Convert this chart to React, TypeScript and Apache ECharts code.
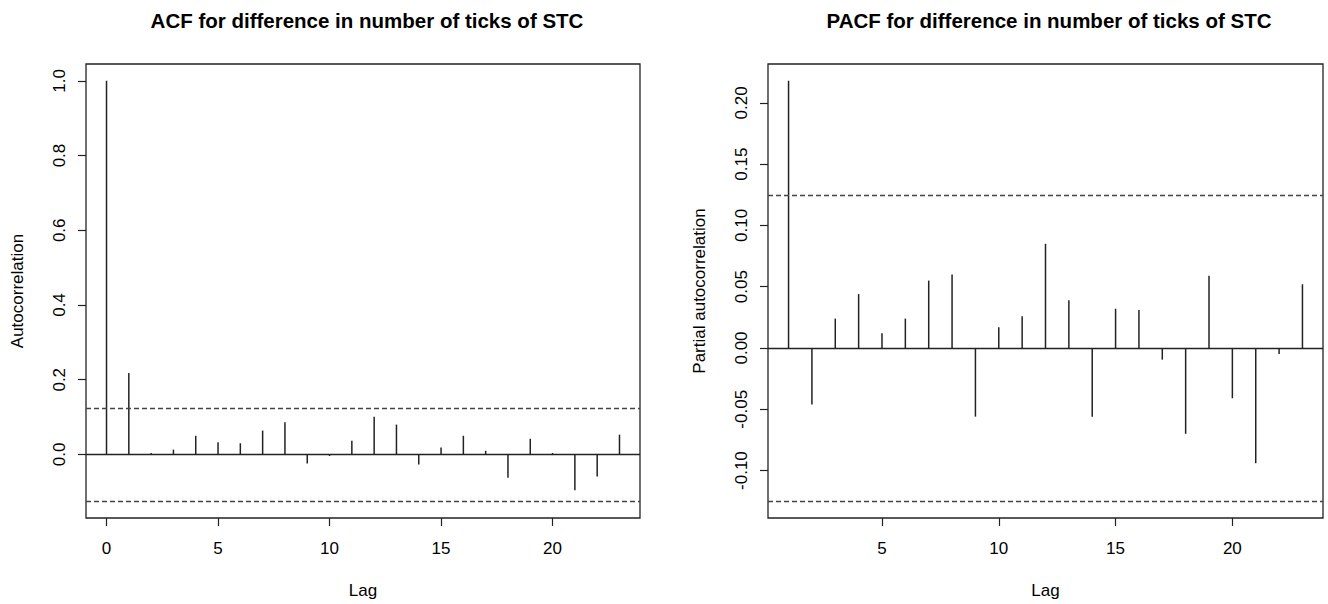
import React, { useEffect, useRef } from "react";
import * as echarts from "echarts";

const acfLags = [0, 1, 2, 3, 4, 5, 6, 7, 8, 9, 10, 11, 12, 13, 14, 15, 16, 17, 18, 19, 20, 21, 22, 23];
const acfValues = [1.0, 0.218, 0.004, 0.013, 0.05, 0.033, 0.03, 0.064, 0.086, -0.024, -0.004, 0.037, 0.101, 0.08, -0.027, 0.019, 0.05, 0.01, -0.062, 0.042, 0.004, -0.096, -0.059, 0.053];
const pacfLags = [1, 2, 3, 4, 5, 6, 7, 8, 9, 10, 11, 12, 13, 14, 15, 16, 17, 18, 19, 20, 21, 22, 23];
const pacfValues = [0.218, -0.046, 0.024, 0.044, 0.012, 0.024, 0.055, 0.06, -0.056, 0.017, 0.026, 0.085, 0.039, -0.056, 0.032, 0.031, -0.0095, -0.07, 0.059, -0.041, -0.094, -0.005, 0.052];
const ciBound = 0.125;
const acfYTicks = [0, 0.2, 0.4, 0.6, 0.8, 1.0];
const pacfYTicks = [-0.1, -0.05, 0, 0.05, 0.1, 0.15, 0.2];
const acfXTicks = [0, 5, 10, 15, 20];
const pacfXTicks = [5, 10, 15, 20];
const titles = ["ACF for difference in number of ticks of STC", "PACF for difference in number of ticks of STC"];
const yNames = ["Autocorrelation", "Partial autocorrelation"];
const xName = "Lag";

const FONT = "Liberation Sans, Arial, sans-serif";
const INK = "#222";
const FS = 17;

function stemSeries(idx: number, lags: number[], vals: number[]) {
  return {
    type: "custom",
    xAxisIndex: idx,
    yAxisIndex: idx,
    data: lags.map((l, i) => [l, vals[i]]),
    encode: { x: 0, y: 1 },
    renderItem: (_p: any, api: any) => {
      const x = api.value(0);
      const y = api.value(1);
      const a = api.coord([x, 0]);
      const b = api.coord([x, y]);
      return {
        type: "line",
        shape: { x1: a[0], y1: a[1], x2: b[0], y2: b[1] },
        style: { stroke: INK, lineWidth: 1.5 },
      };
    },
    markLine: {
      silent: true,
      symbol: "none",
      precision: 4,
      label: { show: false },
      data: [
        { yAxis: 0, lineStyle: { type: "solid", color: INK, width: 1.3 } },
        { yAxis: ciBound, lineStyle: { type: [5, 3], color: "#444", width: 1.3 } },
        { yAxis: -ciBound, lineStyle: { type: [5, 3], color: "#444", width: 1.3 } },
      ],
    },
  };
}

function xAxisFor(idx: number, min: number, max: number, ticks: number[]) {
  return {
    type: "value",
    gridIndex: idx,
    min,
    max,
    name: xName,
    nameLocation: "middle",
    nameGap: 64,
    nameTextStyle: { fontFamily: FONT, fontSize: FS, color: "#000" },
    axisLine: { show: false, onZero: false },
    splitLine: { show: false },
    axisTick: { show: true, inside: false, length: 8, customValues: ticks, lineStyle: { color: INK, width: 1.2 } },
    axisLabel: { show: true, margin: 22, customValues: ticks, fontFamily: FONT, fontSize: FS, color: "#000", formatter: (v: number) => String(v) },
  };
}

function yAxisFor(idx: number, min: number, max: number, ticks: number[], name: string, dec: number) {
  return {
    type: "value",
    gridIndex: idx,
    min,
    max,
    name,
    nameLocation: "middle",
    nameGap: 60,
    nameRotate: 90,
    nameTextStyle: { fontFamily: FONT, fontSize: FS, color: "#000" },
    axisLine: { show: false, onZero: false },
    splitLine: { show: false },
    axisTick: { show: true, inside: false, length: 8, customValues: ticks, lineStyle: { color: INK, width: 1.2 } },
    axisLabel: {
      show: true,
      rotate: 90,
      margin: 18,
      customValues: ticks,
      fontFamily: FONT,
      fontSize: FS,
      color: "#000",
      formatter: (v: number) => v.toFixed(dec),
    },
  };
}

export default function App() {
  const ref = useRef<HTMLDivElement>(null);
  useEffect(() => {
    document.body.style.margin = "0";
    if (!ref.current) return;
    const chart = echarts.init(ref.current, undefined, { renderer: "svg" });
    chart.setOption({
      animation: false,
      backgroundColor: "#fff",
      title: [
        { text: titles[0], left: 362, top: 5, textAlign: "center", textStyle: { fontFamily: FONT, fontSize: 20.5, fontWeight: "bold", color: "#000" } },
        { text: titles[1], left: 1044, top: 5, textAlign: "center", textStyle: { fontFamily: FONT, fontSize: 20.5, fontWeight: "bold", color: "#000" } },
      ],
      grid: [
        { left: 86, top: 64, width: 554, height: 454, show: true, borderColor: INK, borderWidth: 1.3, backgroundColor: "transparent" },
        { left: 768, top: 64, width: 555, height: 454, show: true, borderColor: INK, borderWidth: 1.3, backgroundColor: "transparent" },
      ],
      xAxis: [xAxisFor(0, -0.92, 23.92, acfXTicks), xAxisFor(1, 0.12, 23.88, pacfXTicks)],
      yAxis: [
        yAxisFor(0, -0.17, 1.045, acfYTicks, yNames[0], 1),
        yAxisFor(1, -0.1387, 0.2317, pacfYTicks, yNames[1], 2),
      ],
      series: [stemSeries(0, acfLags, acfValues), stemSeries(1, pacfLags, pacfValues)],
    });
    return () => chart.dispose();
  }, []);
  return <div ref={ref} style={{ width: 1328, height: 604 }} />;
}
